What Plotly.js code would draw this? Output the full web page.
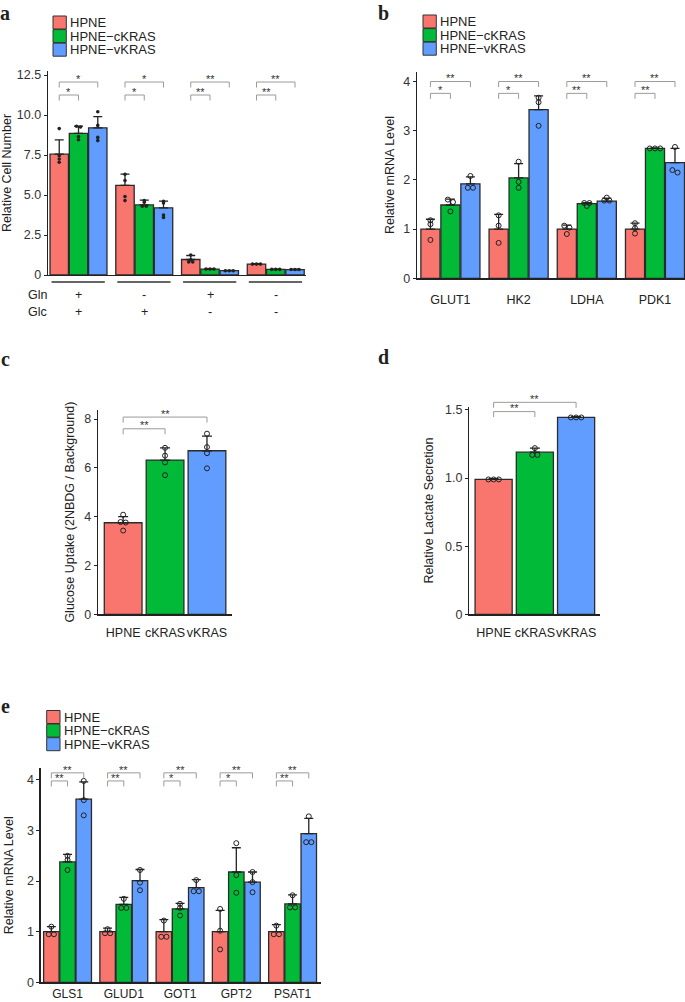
<!DOCTYPE html>
<html><head><meta charset="utf-8">
<script src="https://cdn.plot.ly/plotly-3.0.1.min.js"></script>
<style>html,body{margin:0;padding:0;background:#fff}#chart{width:685px;height:1002px}</style>
</head><body><div id="chart"></div>
<script>
// ================= DATA =================
const seriesNames = ['HPNE', 'HPNE\u2212cKRAS', 'HPNE\u2212vKRAS'];
const shortNames = ['HPNE', 'cKRAS', 'vKRAS'];
const seriesColors = ['#F8766D', '#00BA38', '#619CFF'];

// panel a : relative cell number
const glnLabels = ['+', '-', '+', '-'];
const glcLabels = ['+', '+', '-', '-'];
const aHPNE = [7.55, 5.6, 0.97, 0.68];
const aCKRAS = [8.85, 4.38, 0.37, 0.35];
const aVKRAS = [9.2, 4.2, 0.27, 0.34];
const aHPNEerr = [0.9, 0.7, 0.25, 0.03];
const aCKRASerr = [0.45, 0.3, 0.03, 0.02];
const aVKRASerr = [0.7, 0.42, 0.02, 0.02];
const aHPNEpts = [[9.15, 7.45, 7.25, 7.05], [6.3, 5.9, 4.9, 4.65], [1.25, 0.95, 0.82, 0.82], [0.68, 0.68, 0.68]];
const aCKRASpts = [[9.3, 9.25, 8.65, 8.45], [4.65, 4.55, 4.3, 4.3], [0.37, 0.37, 0.37], [0.35, 0.35, 0.35]];
const aVKRASpts = [[10.2, 9.35, 8.6, 8.4], [4.6, 4.5, 3.75, 3.6], [0.27, 0.27, 0.27], [0.34, 0.34, 0.34]];
const aTickVals = [0, 2.5, 5, 7.5, 10, 12.5];
const aTickText = ['0', '2.5', '5.0', '7.5', '10.0', '12.5'];
const aSigTop = ['*', '*', '**', '**'];
const aSigLow = ['*', '*', '**', '**'];

// panel b : glycolysis genes mRNA
const bGenes = ['GLUT1', 'HK2', 'LDHA', 'PDK1'];
const bHPNE = [1.0, 1.0, 1.0, 1.0];
const bCKRAS = [1.49, 2.04, 1.52, 2.64];
const bVKRAS = [1.92, 3.43, 1.57, 2.35];
const bHPNEerr = [0.2, 0.3, 0.08, 0.12];
const bCKRASerr = [0.12, 0.29, 0.02, 0.01];
const bVKRASerr = [0.14, 0.28, 0.06, 0.29];
const bHPNEpts = [[1.18, 1.1, 0.78], [1.28, 1.07, 0.72], [1.07, 1.03, 0.9], [1.12, 1.02, 0.91]];
const bCKRASpts = [[1.6, 1.55, 1.36], [2.37, 1.96, 1.84], [1.53, 1.53, 1.47], [2.64, 2.64, 2.64]];
const bVKRASpts = [[2.08, 1.84, 1.84], [3.67, 3.58, 3.1], [1.64, 1.58, 1.58], [2.67, 2.2, 2.15]];
const bTickVals = [0, 1, 2, 3, 4];
const bSigTop = ['**', '**', '**', '**'];
const bSigLow = ['*', '*', '**', '**'];

// panel c : glucose uptake
const cMeans = [3.75, 6.32, 6.7];
const cErr = [0.25, 0.5, 0.6];
const cPts = [[4.08, 3.78, 3.76, 3.43], [6.82, 6.5, 6.22, 5.7], [7.4, 6.85, 6.6, 5.98]];
const cTickVals = [0, 2, 4, 6, 8];
const cSigTop = ['**'];
const cSigLow = ['**'];

// panel d : lactate secretion
const dMeans = [0.99, 1.19, 1.445];
const dErr = [0.006, 0.03, 0.006];
const dPts = [[0.99, 0.99, 0.99], [1.22, 1.17, 1.17], [1.445, 1.445, 1.445]];
const dTickVals = [0, 0.5, 1.0, 1.5];
const dTickText = ['0', '0.5', '1.0', '1.5'];
const dSigTop = ['**'];
const dSigLow = ['**'];

// panel e : glutamine metabolism genes mRNA
const eGenes = ['GLS1', 'GLUD1', 'GOT1', 'GPT2', 'PSAT1'];
const eHPNE = [1.0, 1.0, 1.0, 1.0, 1.0];
const eCKRAS = [2.38, 1.54, 1.45, 2.18, 1.55];
const eVKRAS = [3.62, 2.01, 1.87, 1.98, 2.94];
const eHPNEerr = [0.1, 0.07, 0.24, 0.42, 0.14];
const eCKRASerr = [0.15, 0.14, 0.11, 0.48, 0.18];
const eVKRASerr = [0.34, 0.22, 0.16, 0.2, 0.3];
const eHPNEpts = [[1.1, 0.95, 0.95], [1.05, 0.97, 0.97], [1.22, 0.9, 0.9], [1.45, 1.02, 0.65], [1.12, 0.95, 0.95]];
const eCKRASpts = [[2.5, 2.42, 2.22], [1.65, 1.47, 1.47], [1.55, 1.47, 1.32], [2.75, 2.12, 1.77], [1.72, 1.48, 1.48]];
const eVKRASpts = [[3.98, 3.6, 3.3], [2.22, 1.97, 1.82], [2.02, 1.8, 1.8], [2.18, 1.98, 1.78], [3.28, 2.77, 2.77]];
const eTickVals = [0, 1, 2, 3, 4];
const eSigTop = ['**', '**', '**', '**', '**'];
const eSigLow = ['**', '**', '*', '*', '**'];

// ================= LAYOUT CONFIG =================
const W = 685, H = 1002;
const FONT = 'Liberation Sans, Arial, sans-serif';
const SERIF = 'Liberation Serif, Times New Roman, serif';

const panels = [
  {key: 'a', xa: 'x', ya: 'y', xpx: [48, 306], ypx: [71, 275], xr: [-0.464, 3.46], yr: [0, 12.75],
   slot: 0.293, bw: 0.28, cats: glnLabels.length, showXLabels: false, ticklenX: 0,
   means: [aHPNE, aCKRAS, aVKRAS], errs: [aHPNEerr, aCKRASerr, aVKRASerr], pts: [aHPNEpts, aCKRASpts, aVKRASpts],
   tickvals: aTickVals, ticktext: aTickText, title: 'Relative Cell Number', standoff: 3,
   sigTop: aSigTop, sigLow: aSigLow, topLvl: 12.06, lowLvl: 11.25, filledDots: true},
  {key: 'b', xa: 'x2', ya: 'y2', xpx: [417, 685], ypx: [71.7, 278.3], xr: [-0.49, 3.44], yr: [0, 4.2],
   slot: 0.293, bw: 0.28, cats: bGenes.length, xlabels: bGenes, showXLabels: true, ticklenX: 9, xfs: 12.5,
   means: [bHPNE, bCKRAS, bVKRAS], errs: [bHPNEerr, bCKRASerr, bVKRASerr], pts: [bHPNEpts, bCKRASpts, bVKRASpts],
   tickvals: bTickVals, ticktext: bTickVals.map(String), title: 'Relative mRNA Level', standoff: 6,
   sigTop: bSigTop, sigLow: bSigLow, topLvl: 4.0, lowLvl: 3.76},
  {key: 'c', xa: 'x3', ya: 'y3', xpx: [98, 231.7], ypx: [410, 614.3], xr: [-0.6, 2.59], yr: [0, 8.37],
   single: true, bw: 0.9, xlabels: shortNames, showXLabels: true, ticklenX: 6, xfs: 12.5,
   means: cMeans, errs: cErr, pts: cPts,
   tickvals: cTickVals, ticktext: cTickVals.map(String), title: 'Glucose Uptake (2NBDG / Background)', standoff: 7,
   sigTop: cSigTop, sigLow: cSigLow, topLvl: 8.08, lowLvl: 7.6},
  {key: 'd', xa: 'x4', ya: 'y4', xpx: [469.3, 600], ypx: [406.7, 614.3], xr: [-0.59, 2.58], yr: [0, 1.524],
   single: true, bw: 0.9, xlabels: shortNames, showXLabels: true, ticklenX: 6, xfs: 12.5,
   means: dMeans, errs: dErr, pts: dPts,
   tickvals: dTickVals, ticktext: dTickText, title: 'Relative Lactate Secretion', standoff: 8,
   sigTop: dSigTop, sigLow: dSigLow, topLvl: 1.556, lowLvl: 1.488},
  {key: 'e', xa: 'x5', ya: 'y5', xpx: [40.7, 320.7], ypx: [768.3, 982.3], xr: [-0.477, 4.5], yr: [0, 4.23],
   slot: 0.288, bw: 0.275, cats: eGenes.length, xlabels: eGenes, showXLabels: true, ticklenX: 0.1, xfs: 12,
   means: [eHPNE, eCKRAS, eVKRAS], errs: [eHPNEerr, eCKRASerr, eVKRASerr], pts: [eHPNEpts, eCKRASpts, eVKRASpts],
   tickvals: eTickVals, ticktext: eTickVals.map(String), title: 'Relative mRNA Level', standoff: 10,
   sigTop: eSigTop, sigLow: eSigLow, topLvl: 4.14, lowLvl: 3.98}
];

// helpers: data -> pixel -> paper
function xpxOf(p, x) { return p.xpx[0] + (x - p.xr[0]) / (p.xr[1] - p.xr[0]) * (p.xpx[1] - p.xpx[0]); }
function ypxOf(p, y) { return p.ypx[1] - (y - p.yr[0]) / (p.yr[1] - p.yr[0]) * (p.ypx[1] - p.ypx[0]); }
const fx = px => px / W;
const fy = py => 1 - py / H;

// dot-plot style stacking: equal values are spread side by side
function stackOffsets(vals, tol, step) {
  const offs = new Array(vals.length).fill(0);
  const used = new Array(vals.length).fill(false);
  for (let i = 0; i < vals.length; i++) {
    if (used[i]) continue;
    const grp = [i];
    used[i] = true;
    for (let j = i + 1; j < vals.length; j++) {
      if (!used[j] && Math.abs(vals[j] - vals[i]) <= tol) { grp.push(j); used[j] = true; }
    }
    grp.forEach((idx, k) => { offs[idx] = (k - (grp.length - 1) / 2) * step; });
  }
  return offs;
}

const traces = [];
const shapes = [];
const annotations = [];
const layout = {
  width: W, height: H, margin: {l: 0, r: 0, t: 0, b: 0},
  paper_bgcolor: '#fff', plot_bgcolor: '#fff', showlegend: false, barmode: 'overlay',
  font: {family: FONT, color: '#222'}
};

panels.forEach(p => {
  const axX = p.xa === 'x' ? 'xaxis' : 'xaxis' + p.xa.slice(1);
  const axY = p.ya === 'y' ? 'yaxis' : 'yaxis' + p.ya.slice(1);
  const nCat = p.single ? p.means.length : p.cats;
  const catIdx = Array.from({length: nCat}, (_, i) => i);
  layout[axX] = {
    domain: [fx(p.xpx[0]), fx(p.xpx[1])], range: p.xr, anchor: p.ya,
    showline: true, linecolor: '#222', linewidth: 1.3, showgrid: false, zeroline: false,
    tickmode: 'array', tickvals: catIdx, ticktext: p.xlabels || catIdx.map(() => ''),
    showticklabels: p.showXLabels, ticks: 'outside', ticklen: p.ticklenX || 0.1, tickangle: 0,
    tickcolor: 'rgba(0,0,0,0)', tickfont: {size: p.xfs || 12.5, color: '#222', family: FONT}, fixedrange: true
  };
  layout[axY] = {
    domain: [fy(p.ypx[1]), fy(p.ypx[0])], range: p.yr, anchor: p.xa,
    showline: true, linecolor: '#222', linewidth: 1.3, showgrid: false, zeroline: false,
    tickmode: 'array', tickvals: p.tickvals, ticktext: p.ticktext,
    ticks: 'outside', ticklen: 3, tickcolor: '#222', tickwidth: 1,
    tickfont: {size: 12.5, color: '#333', family: FONT},
    title: {text: p.title, standoff: p.standoff, font: {size: 12.5, color: '#222', family: FONT}},
    fixedrange: true
  };

  const pxPerUnitX = (p.xpx[1] - p.xpx[0]) / (p.xr[1] - p.xr[0]);
  const pxPerUnitY = (p.ypx[1] - p.ypx[0]) / (p.yr[1] - p.yr[0]);
  const dotStep = (p.filledDots ? 4 : 5.2) / pxPerUnitX;
  const dotTol = (p.filledDots ? 1.5 : 2.5) / pxPerUnitY;
  const dotMarker = p.filledDots
    ? {symbol: 'circle', size: 3.6, color: '#222'}
    : {symbol: 'circle-open', size: 5, color: '#222', line: {width: 1, color: '#222'}};

  const bracketX = []; // [left, middle, right] per category (bar centres)
  if (p.single) {
    traces.push({
      type: 'bar', x: catIdx, y: p.means, width: p.bw, xaxis: p.xa, yaxis: p.ya,
      marker: {color: seriesColors, line: {color: '#2b2b2b', width: 1.3}},
      error_y: {type: 'data', symmetric: false, array: p.errs, arrayminus: p.errs.map(() => 0),
                color: '#222', thickness: 1.3, width: 5},
      hoverinfo: 'skip', showlegend: false
    });
    const px = [], py = [];
    p.pts.forEach((vals, i) => {
      const offs = stackOffsets(vals, dotTol, dotStep);
      vals.forEach((v, k) => { px.push(i + offs[k]); py.push(v); });
    });
    traces.push({type: 'scatter', mode: 'markers', x: px, y: py, xaxis: p.xa, yaxis: p.ya,
                 marker: dotMarker, hoverinfo: 'skip', showlegend: false, cliponaxis: false});
    bracketX.push([0, 1, 2]);
  } else {
    p.means.forEach((vals, s) => {
      const xs = catIdx.map(i => i + (s - 1) * p.slot);
      traces.push({
        type: 'bar', x: xs, y: vals, width: p.bw, xaxis: p.xa, yaxis: p.ya, name: seriesNames[s],
        marker: {color: seriesColors[s], line: {color: '#2b2b2b', width: 1.3}},
        error_y: {type: 'data', symmetric: false, array: p.errs[s], arrayminus: p.errs[s].map(() => 0),
                  color: '#222', thickness: 1.3, width: 4.5},
        hoverinfo: 'skip', showlegend: false
      });
    });
    p.pts.forEach((ptsSeries, s) => {
      const px = [], py = [];
      ptsSeries.forEach((vals, i) => {
        const offs = stackOffsets(vals, dotTol, dotStep);
        vals.forEach((v, k) => { px.push(i + (s - 1) * p.slot + offs[k]); py.push(v); });
      });
      traces.push({type: 'scatter', mode: 'markers', x: px, y: py, xaxis: p.xa, yaxis: p.ya,
                   marker: dotMarker, hoverinfo: 'skip', showlegend: false, cliponaxis: false});
    });
    catIdx.forEach(i => bracketX.push([i - p.slot, i, i + p.slot]));
  }

  // significance brackets (paper coordinates so they are never clipped)
  const tickLen = 5.5;
  const bCol = '#9a9a9a';
  bracketX.forEach((bx, i) => {
    const xl = xpxOf(p, bx[0]), xm = xpxOf(p, bx[1]), xr = xpxOf(p, bx[2]);
    const yTop = ypxOf(p, p.topLvl), yLow = ypxOf(p, p.lowLvl);
    [[xl, xr, yTop, p.sigTop[i]], [xl, xm, yLow, p.sigLow[i]]].forEach(([x0, x1, yy, lab]) => {
      shapes.push({type: 'path', xref: 'paper', yref: 'paper',
        path: `M${fx(x0)},${fy(yy + tickLen)} L${fx(x0)},${fy(yy)} L${fx(x1)},${fy(yy)} L${fx(x1)},${fy(yy + tickLen)}`,
        line: {color: bCol, width: 1}});
      annotations.push({xref: 'paper', yref: 'paper', x: fx((x0 + x1) / 2), y: fy(yy - 3.3),
        text: lab, showarrow: false, xanchor: 'center', yanchor: 'middle',
        font: {size: 11, color: '#333', family: FONT}});
    });
  });
});

// panel a : Gln / Glc condition rows
(function () {
  const p = panels[0];
  glnLabels.forEach((g, i) => {
    const x0 = xpxOf(p, i - 0.41), x1 = xpxOf(p, i + 0.4);
    shapes.push({type: 'line', xref: 'paper', yref: 'paper', x0: fx(x0), x1: fx(x1), y0: fy(282), y1: fy(282),
                 line: {color: '#333', width: 1.3}});
    annotations.push({xref: 'paper', yref: 'paper', x: fx(xpxOf(p, i)), y: fy(295), text: g, showarrow: false,
                      xanchor: 'center', yanchor: 'middle', font: {size: 12.5, color: '#222', family: FONT}});
    annotations.push({xref: 'paper', yref: 'paper', x: fx(xpxOf(p, i)), y: fy(312), text: glcLabels[i], showarrow: false,
                      xanchor: 'center', yanchor: 'middle', font: {size: 12.5, color: '#222', family: FONT}});
  });
  [['Gln', 295], ['Glc', 312]].forEach(([t, yy]) => {
    annotations.push({xref: 'paper', yref: 'paper', x: fx(26), y: fy(yy), text: t, showarrow: false,
                      xanchor: 'left', yanchor: 'middle', font: {size: 12.5, color: '#222', family: FONT}});
  });
})();

// legends (panels a, b, e)
[[53, 16], [423, 15], [46.7, 710.5]].forEach(([lx, ly]) => {
  seriesNames.forEach((nm, s) => {
    const y0 = ly + s * 13.6;
    shapes.push({type: 'rect', xref: 'paper', yref: 'paper', x0: fx(lx), x1: fx(lx + 13.3),
                 y0: fy(y0 + 13), y1: fy(y0), fillcolor: seriesColors[s], line: {color: '#333', width: 1}});
    annotations.push({xref: 'paper', yref: 'paper', x: fx(lx + 15), y: fy(y0 + 6.8), text: nm, showarrow: false,
                      xanchor: 'left', yanchor: 'middle', font: {size: 13, color: '#222', family: FONT}});
  });
});

// panel letters
[['a', 5, 12.5], ['b', 383, 12.5], ['c', 5, 359], ['d', 383, 357], ['e', 5, 706]].forEach(([t, x, y]) => {
  annotations.push({xref: 'paper', yref: 'paper', x: fx(x), y: fy(y), text: '<b>' + t + '</b>', showarrow: false,
                    xanchor: 'center', yanchor: 'middle', borderpad: 0,
                    font: {size: 20, color: '#231f20', family: SERIF}});
});

layout.shapes = shapes;
layout.annotations = annotations;

Plotly.newPlot('chart', traces, layout, {staticPlot: true, displayModeBar: false});
</script>
</body></html>
